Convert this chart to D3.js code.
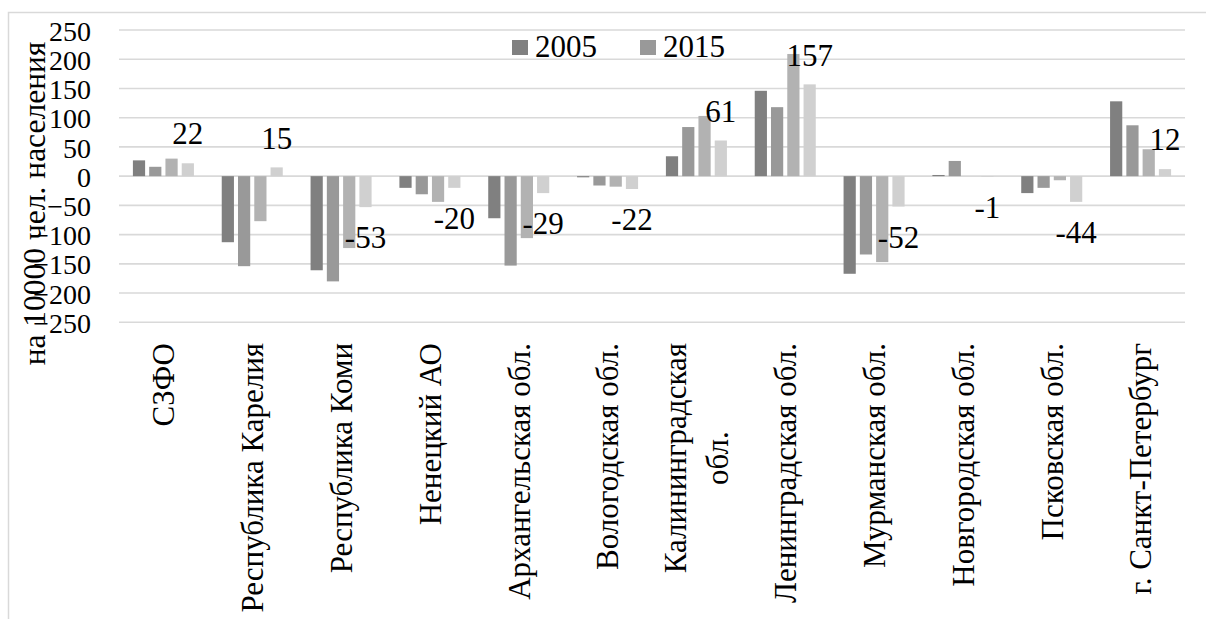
<!DOCTYPE html>
<html><head><meta charset="utf-8">
<script src="https://cdn.jsdelivr.net/npm/d3@7"></script>
<style>
html,body{margin:0;padding:0;background:#fff;}
svg text{font-family:"Liberation Serif","Times New Roman",Tinos,"DejaVu Serif",serif,"Liberation Sans" !important;fill:#000;}
</style></head>
<body>
<svg id="chart" width="1206" height="619"></svg>
<script>
const categories = ["СЗФО","Республика Карелия","Республика Коми","Ненецкий АО","Архангельская обл.","Вологодская обл.","Калининградская\nобл.","Ленинградская обл.","Мурманская обл.","Новгородская обл.","Псковская обл.","г. Санкт-Петербург"];
const seriesNames = ["2005","2015","ряд 3","ряд 4"];
const legendNames = ["2005","2015"];
const s1 = [27,-113,-161,-20,-72,-2,34,146,-167,2,-29,128];
const s2 = [16,-154,-180,-31,-153,-16,84,118,-134,26,-20,87];
const s3 = [30,-77,-123,-44,-106,-18,103,209,-147,0,-7,46];
const s4 = [22,15,-53,-20,-29,-22,61,157,-52,-1,-44,12];
const yTicks = [-250,-200,-150,-100,-50,0,50,100,150,200,250];
const colors = ["#808080","#999999","#b2b2b2","#d0d0d0"];
const yTitle = "на 10000 чел. населения";

const values = [s1,s2,s3,s4];
const svg = d3.select("#chart");
const L = 119, R = 1185, T = 30, B = 322.3;
const FF = "Liberation Serif";

// outer border
svg.append("path").attr("d","M8.5,619 V12.5 H1206").attr("fill","none").attr("stroke","#d9d9d9").attr("stroke-width",1.5);

const x0 = d3.scaleBand().domain(d3.range(categories.length)).range([L,R]).paddingInner(0.313).paddingOuter(0.1565);
const x1 = d3.scaleBand().domain(d3.range(4)).range([0,x0.bandwidth()]).paddingInner(0.25);
const y = d3.scaleLinear().domain([-250,250]).range([B,T]);

// gridlines
svg.append("g").selectAll("line").data(yTicks).join("line")
  .attr("x1",L).attr("x2",R).attr("y1",d=>y(d)).attr("y2",d=>y(d))
  .attr("stroke","#d9d9d9").attr("stroke-width",1.6);

// y tick labels
const yAxis = d3.axisLeft(y).tickValues(yTicks).tickSize(0).tickPadding(0);
const gy = svg.append("g").attr("transform","translate(91,0)").call(yAxis);
gy.attr("font-family",FF);
gy.select(".domain").remove();
gy.selectAll("text").attr("font-family",FF).attr("font-size",28).attr("fill","#000").attr("dy","0.36em");

// y title
svg.append("text").attr("font-family",FF).attr("transform","translate(34,203.5) rotate(-90)")
  .attr("text-anchor","middle").attr("dy","0.35em").attr("font-size",31.5).text(yTitle);

// bars
const bars = svg.append("g");
values.forEach((vals,si)=>{
  bars.selectAll(null).data(vals).join("rect")
    .attr("x",(d,i)=>x0(i)+x1(si))
    .attr("width",x1.bandwidth())
    .attr("y",d=>y(Math.max(0,d)))
    .attr("height",d=>Math.abs(y(d)-y(0)))
    .attr("fill",colors[si]);
});

// data labels (last series)
svg.append("g").attr("font-family",FF).selectAll("text").data(s4).join("text")
  .attr("x",(d,i)=>x0(i)+x1(3)+x1.bandwidth()/2)
  .attr("y",d=> d>=0 ? y(d)-30 : y(d)+30)
  .attr("dy","0.36em").attr("text-anchor","middle").attr("font-size",31)
  .text(d=>d);

// category labels
const catTop = 343;
const cg = svg.append("g").attr("font-family",FF);
categories.forEach((c,i)=>{
  const lines = c.split("\n");
  const cx = x0(i)+x0.bandwidth()/2;
  const lh = 42;
  const g = cg.append("g");
  const texts = lines.map((ln,k)=>{
    const off = (k-(lines.length-1)/2)*lh;
    return g.append("text").attr("font-size",31).attr("dy","0.35em")
      .attr("transform",`translate(${cx+off},${catTop}) rotate(-90)`).text(ln);
  });
  const lens = texts.map(t=>t.node().getComputedTextLength());
  const maxLen = d3.max(lens);
  texts.forEach((t,k)=>{
    const off = (k-(lines.length-1)/2)*lh;
    t.attr("text-anchor","middle").attr("transform",`translate(${cx+off},${catTop+maxLen/2}) rotate(-90)`);
  });
});

// legend
const legX = [512,640];
legendNames.forEach((n,k)=>{
  svg.append("rect").attr("x",legX[k]).attr("y",40).attr("width",16).attr("height",15).attr("fill",colors[k]);
  svg.append("text").attr("font-family",FF).attr("x",legX[k]+23).attr("y",57).attr("font-size",31).text(n);
});
</script>
</body></html>
